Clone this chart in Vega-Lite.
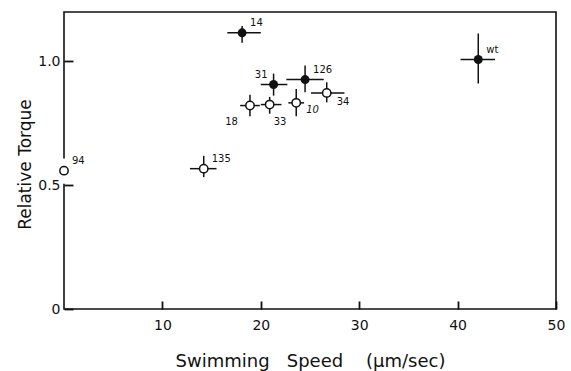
{
  "$schema": "https://vega.github.io/schema/vega-lite/v6.json",
  "width": 492,
  "height": 297,
  "autosize": {"type": "none"},
  "padding": {"left": 64, "top": 12, "right": 15, "bottom": 62},
  "background": "white",
  "config": {
    "view": {"stroke": "#111", "strokeWidth": 1.6},
    "font": "DejaVu Sans",
    "axis": {
      "domain": false, "grid": false, "ticks": true, "tickColor": "#111", "tickWidth": 1.8, "tickOpacity": 1,
      "labelColor": "#111", "titleColor": "#111", "labelFont": "DejaVu Sans",
      "titleFont": "DejaVu Sans", "titleFontWeight": "normal", "labelFontSize": 14,
      "labelFlush": false, "labelOverlap": false, "zindex": 1
    }
  },
  "data": {"values": [
    {"id": "14", "speed": 18.1, "torque": 1.116, "xlo": 16.6, "xhi": 20.0, "ylo": 1.076, "yhi": 1.143, "fill": "filled", "labelpos": "ur"},
    {"id": "31", "speed": 21.3, "torque": 0.907, "xlo": 20.0, "xhi": 22.7, "ylo": 0.862, "yhi": 0.951, "fill": "filled", "labelpos": "ul"},
    {"id": "126", "speed": 24.5, "torque": 0.927, "xlo": 22.6, "xhi": 26.4, "ylo": 0.876, "yhi": 0.984, "fill": "filled", "labelpos": "ur"},
    {"id": "wt", "speed": 42.1, "torque": 1.008, "xlo": 40.3, "xhi": 43.8, "ylo": 0.911, "yhi": 1.113, "fill": "filled", "labelpos": "ur"},
    {"id": "18", "speed": 18.9, "torque": 0.822, "xlo": 17.9, "xhi": 19.9, "ylo": 0.779, "yhi": 0.866, "fill": "open", "labelpos": "ll"},
    {"id": "33", "speed": 20.9, "torque": 0.826, "xlo": 20.0, "xhi": 22.1, "ylo": 0.789, "yhi": 0.857, "fill": "open", "labelpos": "lr"},
    {"id": "10", "speed": 23.6, "torque": 0.833, "xlo": 22.8, "xhi": 24.4, "ylo": 0.779, "yhi": 0.889, "fill": "open", "labelpos": "ri"},
    {"id": "34", "speed": 26.7, "torque": 0.873, "xlo": 25.1, "xhi": 28.5, "ylo": 0.835, "yhi": 0.916, "fill": "open", "labelpos": "r"},
    {"id": "135", "speed": 14.2, "torque": 0.567, "xlo": 12.8, "xhi": 15.5, "ylo": 0.533, "yhi": 0.619, "fill": "open", "labelpos": "ur"},
    {"id": "94", "speed": 0, "torque": 0.559, "xlo": null, "xhi": null, "ylo": null, "yhi": null, "fill": "open", "labelpos": "ur"}
  ]},
  "encoding": {
    "x": {"field": "speed", "type": "quantitative",
      "scale": {"domain": [0, 50], "nice": false, "zero": false},
      "axis": {"values": [10, 20, 30, 40, 50], "offset": -8, "tickSize": 8, "labelPadding": 9,
        "title": "Swimming\u00a0\u00a0 Speed\u00a0\u00a0\u00a0 (µm/sec)", "titleFontSize": 18,
        "titleX": 246, "titleY": 65, "titleBaseline": "alphabetic", "titleAnchor": "middle"}},
    "y": {"field": "torque", "type": "quantitative",
      "scale": {"domain": [0, 1.2], "nice": false},
      "axis": {"values": [0, 0.5, 1.0], "offset": -9, "tickSize": 9, "labelPadding": 4,
        "labelExpr": "datum.value == 0 ? '0' : format(datum.value, '.1f')",
        "title": "Relative Torque", "titleFontSize": 17,
        "titleX": -43, "titleY": 152, "titleBaseline": "alphabetic", "titleAnchor": "middle", "titleAngle": -90}}
  },
  "layer": [
    {"data": {"values": [{"x": 0, "y1": 0.506, "y2": 0.608}]},
     "mark": {"type": "rule", "color": "white", "strokeWidth": 5},
     "encoding": {"x": {"field": "x", "type": "quantitative"}, "y": {"field": "y1", "type": "quantitative"}, "y2": {"field": "y2"}}},
    {"mark": {"type": "rule", "color": "#111", "strokeWidth": 1.5},
     "encoding": {"x": {"field": "xlo", "type": "quantitative"}, "x2": {"field": "xhi"}}},
    {"mark": {"type": "rule", "color": "#111", "strokeWidth": 1.5},
     "encoding": {"y": {"field": "ylo", "type": "quantitative"}, "y2": {"field": "yhi"}}},
    {"transform": [{"filter": "datum.fill == 'filled'"}],
     "mark": {"type": "point", "shape": "circle", "filled": true, "color": "#111", "size": 80, "opacity": 1}},
    {"transform": [{"filter": "datum.fill == 'open'"}],
     "mark": {"type": "point", "shape": "circle", "filled": false, "fill": "white", "fillOpacity": 1, "stroke": "#111", "strokeWidth": 1.5, "size": 70, "opacity": 1}},
    {"transform": [{"filter": "datum.labelpos == 'ur'"}],
     "mark": {"type": "text", "align": "left", "baseline": "middle", "dx": 8, "dy": -10, "fontSize": 10, "color": "#111"},
     "encoding": {"text": {"field": "id"}}},
    {"transform": [{"filter": "datum.labelpos == 'ul'"}],
     "mark": {"type": "text", "align": "right", "baseline": "middle", "dx": -6, "dy": -10, "fontSize": 10, "color": "#111"},
     "encoding": {"text": {"field": "id"}}},
    {"transform": [{"filter": "datum.labelpos == 'll'"}],
     "mark": {"type": "text", "align": "right", "baseline": "middle", "dx": -12, "dy": 16, "fontSize": 10, "color": "#111"},
     "encoding": {"text": {"field": "id"}}},
    {"transform": [{"filter": "datum.labelpos == 'lr'"}],
     "mark": {"type": "text", "align": "left", "baseline": "middle", "dx": 4, "dy": 17, "fontSize": 10, "color": "#111"},
     "encoding": {"text": {"field": "id"}}},
    {"transform": [{"filter": "datum.labelpos == 'r'"}],
     "mark": {"type": "text", "align": "left", "baseline": "middle", "dx": 10, "dy": 9, "fontSize": 10, "color": "#111"},
     "encoding": {"text": {"field": "id"}}},
    {"transform": [{"filter": "datum.labelpos == 'ri'"}],
     "mark": {"type": "text", "align": "left", "baseline": "middle", "dx": 10, "dy": 7, "fontSize": 10, "fontStyle": "italic", "color": "#111"},
     "encoding": {"text": {"field": "id"}}}
  ]
}
